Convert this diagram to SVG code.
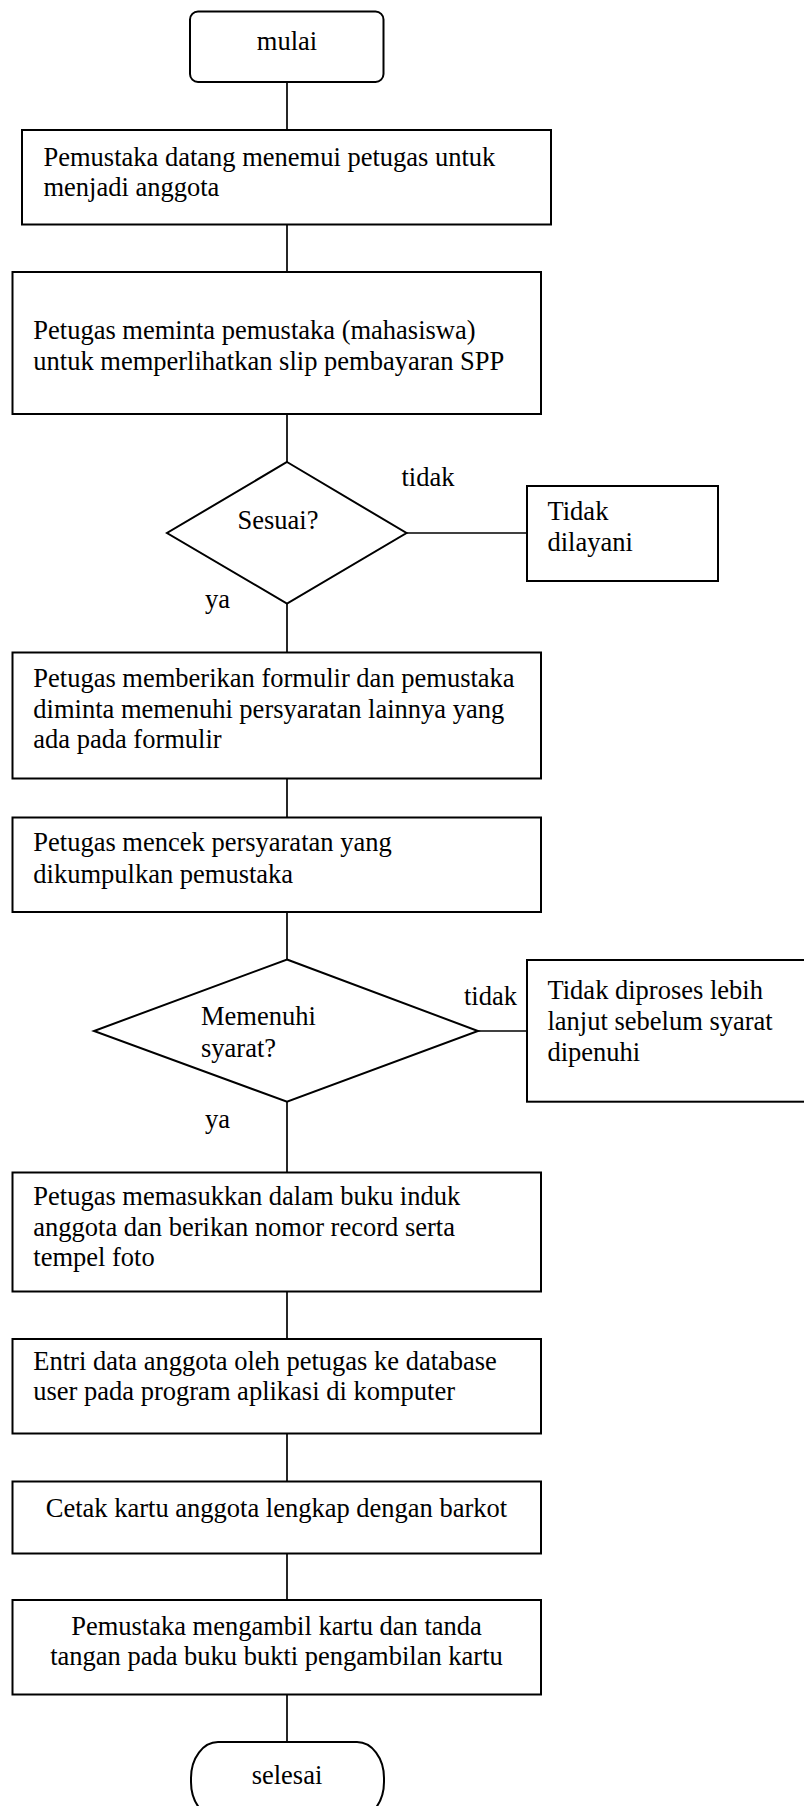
<svg xmlns="http://www.w3.org/2000/svg" width="804" height="1806" viewBox="0 0 804 1806">
<style>
.box{fill:#fff;stroke:#000;stroke-width:2}
.ln{stroke:#000;stroke-width:1.7;fill:none}
text{font-family:"Liberation Serif","Times New Roman",serif;font-size:26.5px;fill:#000}
.c{text-anchor:middle}
</style>
<rect width="804" height="1806" fill="#fff"/>
<g id="connectors">
<line class="ln" x1="287" y1="82" x2="287" y2="130"/>
<line class="ln" x1="287" y1="224.5" x2="287" y2="272"/>
<line class="ln" x1="287" y1="414" x2="287" y2="462"/>
<line class="ln" x1="406.5" y1="533" x2="527" y2="533"/>
<line class="ln" x1="287" y1="603.5" x2="287" y2="652.5"/>
<line class="ln" x1="287" y1="770" x2="287" y2="817.5"/>
<line class="ln" x1="287" y1="912" x2="287" y2="959.5"/>
<line class="ln" x1="478" y1="1031" x2="527" y2="1031"/>
<line class="ln" x1="287" y1="1101.7" x2="287" y2="1172.5"/>
<line class="ln" x1="287" y1="1291.5" x2="287" y2="1339"/>
<line class="ln" x1="287" y1="1433.5" x2="287" y2="1481.5"/>
<line class="ln" x1="287" y1="1553.5" x2="287" y2="1600"/>
<line class="ln" x1="287" y1="1694.5" x2="287" y2="1742"/>
<text x="401.5" y="486">tidak</text>
<text x="205" y="608">ya</text>
<text x="464" y="1005">tidak</text>
<text x="205" y="1128">ya</text>
</g>
<g id="mulai">
<rect class="box" x="190" y="11.5" width="193.5" height="70.5" rx="8"/>
<text class="c" x="287" y="50">mulai</text>
</g>
<g id="box1">
<rect class="box" x="22" y="130" width="529" height="94.5"/>
<text x="43.5" y="166">Pemustaka datang menemui petugas untuk</text>
<text x="43.5" y="196">menjadi anggota</text>
</g>
<g id="box2">
<rect class="box" x="12.5" y="272" width="528.5" height="142"/>
<text x="33.3" y="339">Petugas meminta pemustaka (mahasiswa)</text>
<text x="33.3" y="370">untuk memperlihatkan slip pembayaran SPP</text>
</g>
<g id="decision1">
<polygon class="box" points="287,462 406.5,533 287,603.5 167,533"/>
<text x="237.5" y="529">Sesuai?</text>
</g>
<g id="tidak-dilayani">
<rect class="box" x="527" y="486" width="191" height="95"/>
<text x="547.5" y="520">Tidak</text>
<text x="547.5" y="551">dilayani</text>
</g>
<g id="box3">
<rect class="box" x="12.5" y="652.5" width="528.5" height="126"/>
<text x="33.3" y="686.5">Petugas memberikan formulir dan pemustaka</text>
<text x="33.3" y="717.5">diminta memenuhi persyaratan lainnya yang</text>
<text x="33.3" y="748">ada pada formulir</text>
</g>
<g id="box4">
<rect class="box" x="12.5" y="817.5" width="528.5" height="94.5"/>
<text x="33.3" y="851">Petugas mencek persyaratan yang</text>
<text x="33.3" y="883">dikumpulkan pemustaka</text>
</g>
<g id="decision2">
<polygon class="box" points="287,959.5 478,1031 287,1101.7 94,1031"/>
<text x="201" y="1025">Memenuhi</text>
<text x="201" y="1057">syarat?</text>
</g>
<g id="tidak-diproses">
<rect class="box" x="527" y="960" width="300" height="141.7"/>
<text x="547.5" y="999">Tidak diproses lebih</text>
<text x="547.5" y="1030">lanjut sebelum syarat</text>
<text x="547.5" y="1061">dipenuhi</text>
</g>
<g id="box6">
<rect class="box" x="12.5" y="1172.5" width="528.5" height="119"/>
<text x="33.3" y="1205">Petugas memasukkan dalam buku induk</text>
<text x="33.3" y="1236">anggota dan berikan nomor record serta</text>
<text x="33.3" y="1266">tempel foto</text>
</g>
<g id="box7">
<rect class="box" x="12.5" y="1339" width="528.5" height="94.5"/>
<text x="33.3" y="1370">Entri data anggota oleh petugas ke database</text>
<text x="33.3" y="1400">user pada program aplikasi di komputer</text>
</g>
<g id="box8">
<rect class="box" x="12.5" y="1481.5" width="528.5" height="72"/>
<text class="c" x="276.5" y="1516.5">Cetak kartu anggota lengkap dengan barkot</text>
</g>
<g id="box9">
<rect class="box" x="12.5" y="1600" width="528.5" height="94.5"/>
<text class="c" x="276.5" y="1634.5">Pemustaka mengambil kartu dan tanda</text>
<text class="c" x="276.5" y="1664.5">tangan pada buku bukti pengambilan kartu</text>
</g>
<g id="selesai">
<rect class="box" x="191" y="1742" width="193" height="76" rx="27" ry="36"/>
<text class="c" x="287" y="1784">selesai</text>
</g>
</svg>
